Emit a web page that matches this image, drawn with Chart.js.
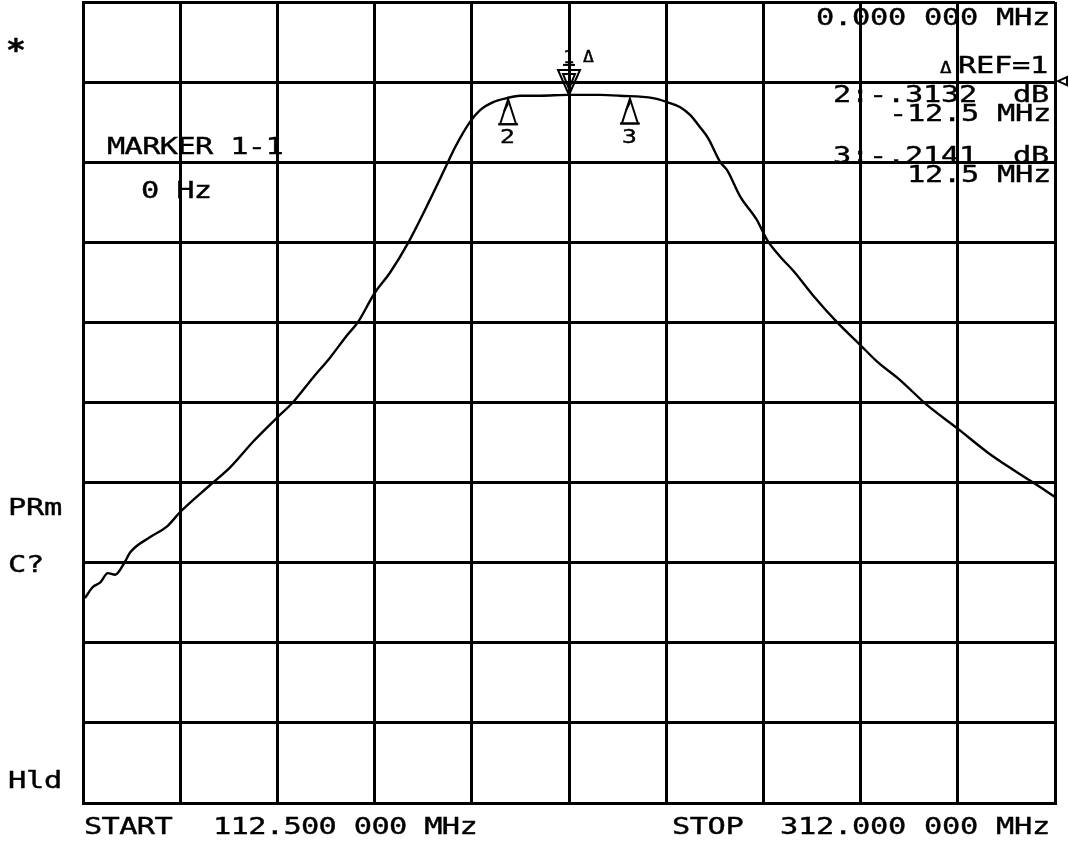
<!DOCTYPE html>
<html>
<head>
<meta charset="utf-8">
<script src="https://cdn.jsdelivr.net/npm/chart.js@4.4.1/dist/chart.umd.min.js"></script>
<style>
html, body { margin: 0; padding: 0; background: #fff; }
#wrap { position: relative; width: 1069px; height: 841px; }
</style>
</head>
<body>
<div id="wrap"><canvas id="analyzer" width="1069" height="841"></canvas></div>
<script>
// Sweep: START 112.5 MHz, STOP 312 MHz, 10 divisions each way
const START_MHZ = 112.5;
const STOP_MHZ = 312.0;
const gridFreqs = [112.5, 132.45, 152.4, 172.35, 192.3, 212.25, 232.2, 252.15, 272.1, 292.05, 312.0];
const REF_DB = 0;

// Trace (MHz, dB, 10 dB/div)
const freqMHz = [
    112.9, 114.6, 116.0, 117.6, 119.1, 121.1, 122.2, 126.3, 129.7, 132.4,
    138.6, 142.7, 147.4, 152.5, 155.4, 159.7, 163.2, 166.7, 168.9, 172.4,
    175.5, 179.2, 183.7, 187.4, 188.9, 191.9, 194.0, 196.7, 199.5, 202.2,
    206.3, 212.1, 218.6, 222.7, 229.5, 232.4, 235.0, 237.1, 239.1, 240.8,
    243.3, 244.7, 247.4, 250.8, 252.9, 255.6, 258.2, 262.3, 267.3, 272.0,
    275.5, 280.2, 285.7, 291.9, 298.1, 303.4, 308.3, 312.0
];
const levelDb = [
    -64.4, -63.0, -62.5, -61.3, -61.5, -59.9, -58.7, -56.8, -55.5, -53.7,
    -50.3, -48.1, -44.9, -41.8, -40.1, -36.9, -34.4, -31.6, -30.0, -26.3,
    -23.8, -20.1, -14.7, -10.0, -8.1, -5.0, -3.5, -2.5, -2.0, -1.7,
    -1.7, -1.6, -1.6, -1.7, -2.0, -2.5, -3.1, -4.1, -5.6, -7.0,
    -10.0, -11.0, -14.3, -17.2, -19.7, -21.8, -23.5, -26.6, -30.0, -32.8,
    -34.9, -37.2, -40.3, -43.2, -46.2, -48.4, -50.3, -51.8
];

// Markers: 1 = reference (centre), 2 and 3 at -/+12.5 MHz
const markerIds = ['1', '2', '3'];
const markerFreq = [212.25, 199.75, 224.75];
const markerLevel = [-1.6, -1.9, -1.8];

const FONT = '23px "DejaVu Sans Mono"';

// plotter-ish text: fixed pitch, stretched glyphs, a bit of stroke for weight
function plotText(c, str, x, y, pitch, font, sx) {
    c.save();
    c.font = font || FONT;
    c.fillStyle = '#000';
    c.strokeStyle = '#000';
    c.lineWidth = 0.4;
    c.textBaseline = 'alphabetic';
    c.textAlign = 'left';
    for (let i = 0; i < str.length; i++) {
        if (str[i] === ' ') continue;
        c.save();
        c.translate(x + i * (pitch || 18), y);
        c.scale(sx || 1.32, 1);
        c.fillText(str[i], 0, 0);
        c.strokeText(str[i], 0, 0);
        c.restore();
    }
    c.restore();
}

function tri(c, pts) {
    c.beginPath();
    c.moveTo(pts[0][0], pts[0][1]);
    c.lineTo(pts[1][0], pts[1][1]);
    c.lineTo(pts[2][0], pts[2][1]);
    c.closePath();
    c.stroke();
}

const annotations = {
    id: 'annotations',
    afterDatasetsDraw(chart) {
        const c = chart.ctx;
        const xs = chart.scales.x, ys = chart.scales.y;
        c.save();
        c.strokeStyle = '#000';
        c.lineWidth = 2;

        // markers
        for (let i = 0; i < markerIds.length; i++) {
            const px = xs.getPixelForValue(markerFreq[i]);
            const py = ys.getPixelForValue(markerLevel[i]);
            if (i === 0) {
                tri(c, [[px - 11, py - 25], [px + 11, py - 25], [px, py]]);
                tri(c, [[px - 6, py - 21], [px + 6, py - 21], [px, py - 6]]);
                c.beginPath();
                c.moveTo(px - 6, py - 30); c.lineTo(px + 6, py - 30);
                c.stroke();
                plotText(c, markerIds[i], px - 6, py - 32, 0, '17px "DejaVu Sans Mono"', 1.1);
                plotText(c, '\u0394', px + 14, py - 33, 0, '15px "DejaVu Sans Mono"', 1.2);
            } else {
                tri(c, [[px, py + 2], [px - 8, py + 27], [px + 8, py + 27]]);
                c.beginPath();
                c.moveTo(px - 10, py + 27); c.lineTo(px + 10, py + 27);
                c.moveTo(px - 4, py + 14); c.lineTo(px, py + 6);
                c.stroke();
                plotText(c, markerIds[i], px - 8, py + 46, 0, '19px "DejaVu Sans Mono"', 1.3);
            }
        }

        // reference level indicator on the right edge
        const ry = ys.getPixelForValue(REF_DB);
        const rx = chart.chartArea.right + 3;
        tri(c, [[rx, ry - 1], [rx + 9, ry - 5], [rx + 9, ry + 3]]);
        c.restore();
    },
    afterDraw(chart) {
        const c = chart.ctx;
        plotText(c, '*', 6, 60, 0, 'bold 30px "DejaVu Sans Mono"', 1.1);

        plotText(c, 'MARKER 1-1', 107, 154, 17.6);
        plotText(c, '0 Hz', 141, 198, 17.6);

        plotText(c, '0.000 000 MHz', 816, 25, 18);
        plotText(c, '\u0394', 940, 73, 0, '16px "DejaVu Sans Mono"', 1.2);
        plotText(c, 'REF=1', 958, 73, 18);
        plotText(c, '2:-.3132  dB', 833, 102, 18);
        plotText(c, '-12.5 MHz', 889, 121, 18);
        plotText(c, '3:-.2141  dB', 833, 163, 18);
        plotText(c, '12.5 MHz', 907, 182, 18);

        plotText(c, 'PRm', 8, 515, 18);
        plotText(c, 'C?', 8, 572, 18);
        plotText(c, 'Hld', 8, 788, 18);

        plotText(c, 'START', 84, 834, 17.6);
        plotText(c, '112.500 000 MHz', 213, 834, 17.6);
        plotText(c, 'STOP', 672, 834, 17.8);
        plotText(c, '312.000 000 MHz', 780, 834, 18);
    }
};

const gridStyle = { color: '#000', lineWidth: 3, drawTicks: false };

new Chart(document.getElementById('analyzer').getContext('2d'), {
    type: 'scatter',
    data: {
        datasets: [{
            data: freqMHz.map((f, i) => ({ x: f, y: levelDb[i] })),
            showLine: true,
            borderColor: '#000',
            borderWidth: 2.4,
            pointRadius: 0,
            cubicInterpolationMode: 'monotone'
        }]
    },
    options: {
        responsive: false,
        animation: false,
        layout: { padding: { left: 83, right: 14, top: 2, bottom: 38 } },
        plugins: { legend: { display: false }, tooltip: { enabled: false } },
        scales: {
            x: {
                type: 'linear',
                min: START_MHZ,
                max: STOP_MHZ,
                afterBuildTicks: s => { s.ticks = gridFreqs.map(v => ({ value: v })); },
                ticks: { display: false },
                grid: gridStyle,
                border: { color: '#000', width: 3 }
            },
            y: {
                min: -90,
                max: 10,
                ticks: { display: false, stepSize: 10 },
                grid: gridStyle,
                border: { color: '#000', width: 3 }
            }
        }
    },
    plugins: [annotations]
});
</script>
</body>
</html>
